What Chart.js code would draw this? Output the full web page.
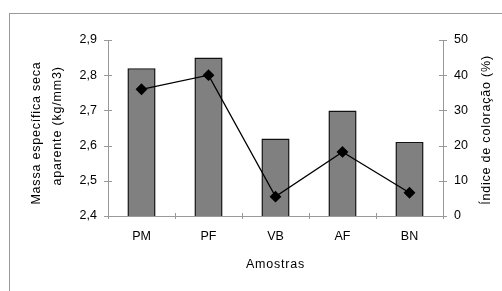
<!DOCTYPE html>
<html>
<head>
<script src="https://cdn.jsdelivr.net/npm/chart.js"></script>
<style>
  body { margin: 0; background: #fff; }
  #wrap { position: relative; width: 502px; height: 291px; }
  #frame { position: absolute; left: 9px; top: 13px; right: 0; bottom: 0;
           border-left: 1px solid #999; border-top: 1px solid #999; }
</style>
</head>
<body>
<div id="wrap">
  <div id="frame"></div>
  <canvas id="myChart" width="502" height="291"></canvas>
</div>
<script>
const samples = ['PM', 'PF', 'VB', 'AF', 'BN'];
const massValues = [2.82, 2.85, 2.62, 2.70, 2.61];
const colorIndex = [36, 40, 5.5, 18.2, 6.6];

const font = { family: 'Liberation Sans, Arial, sans-serif', size: 12.5 };
const axisGray = '#999';

// axis titles drawn by hand so the right one reads bottom-to-top,
// plus tick marks that cross the axis lines like the original
const extras = {
  id: 'extras',
  afterDraw(chart) {
    const c = chart.ctx;
    const area = chart.chartArea;
    const sx = chart.scales.x, sy = chart.scales.y, sy1 = chart.scales.y1;
    c.save();
    c.strokeStyle = axisGray;
    c.lineWidth = 1;
    c.beginPath();
    sy.ticks.forEach(t => {
      const y = Math.round(sy.getPixelForValue(t.value)) + 0.5;
      c.moveTo(area.left - 4, y); c.lineTo(area.left + 4, y);
    });
    sy1.ticks.forEach(t => {
      const y = Math.round(sy1.getPixelForValue(t.value)) + 0.5;
      c.moveTo(area.right - 4, y); c.lineTo(area.right + 4, y);
    });
    for (let i = 0; i <= samples.length; i++) {
      const x = Math.round(sx.getPixelForValue(i - 0.5)) + 0.5;
      c.moveTo(x, area.bottom - 3); c.lineTo(x, area.bottom + 3);
    }
    c.stroke();

    c.fillStyle = '#000';
    c.font = '12.5px Liberation Sans, Arial, sans-serif';
    c.letterSpacing = '0.8px';
    c.textAlign = 'center';
    c.textBaseline = 'middle';
    c.fillText('Amostras', (area.left + area.right) / 2, 265);
    const vert = (txt, x, y) => {
      c.save();
      c.translate(x, y);
      c.rotate(-Math.PI / 2);
      c.fillText(txt, 0, 0);
      c.restore();
    };
    vert('Massa específica seca', 37, 133);
    vert('aparente (kg/mm3)', 58, 126);
    vert('Índice de coloração (%)', 487, 130);
    c.restore();
  }
};

new Chart(document.getElementById('myChart').getContext('2d'), {
  data: {
    labels: samples,
    datasets: [
      {
        type: 'line',
        data: colorIndex,
        yAxisID: 'y1',
        borderColor: '#000',
        borderWidth: 1.3,
        backgroundColor: '#000',
        pointStyle: 'rectRot',
        pointRadius: 5,
        order: 0
      },
      {
        type: 'bar',
        data: massValues,
        yAxisID: 'y',
        backgroundColor: '#808080',
        borderColor: '#111',
        borderWidth: 1.5,
        categoryPercentage: 1,
        barPercentage: 0.42,
        order: 1
      }
    ]
  },
  options: {
    responsive: false,
    animation: false,
    plugins: { legend: { display: false }, tooltip: { enabled: false } },
    layout: { padding: { top: 40 } },
    scales: {
      x: {
        offset: true,
        grid: { offset: true, drawOnChartArea: false, tickLength: 6, color: 'rgba(0,0,0,0)' },
        border: { color: axisGray },
        ticks: { font: font, color: '#000', padding: 7 },
        afterFit: s => { s.height = 75; }
      },
      y: {
        position: 'left',
        min: 2.4, max: 2.9,
        grid: { drawOnChartArea: false, tickLength: 5, color: 'rgba(0,0,0,0)' },
        border: { color: axisGray },
        ticks: {
          stepSize: 0.1, font: font, color: '#000', padding: 6,
          callback: v => v.toFixed(1).replace('.', ',')
        },
        afterFit: s => { s.width = 108; }
      },
      y1: {
        position: 'right',
        min: 0, max: 50,
        grid: { drawOnChartArea: false, tickLength: 5, color: 'rgba(0,0,0,0)' },
        border: { color: axisGray },
        ticks: { stepSize: 10, font: font, color: '#000', padding: 6 },
        afterFit: s => { s.width = 59; }
      }
    }
  },
  plugins: [extras]
});
</script>
</body>
</html>
